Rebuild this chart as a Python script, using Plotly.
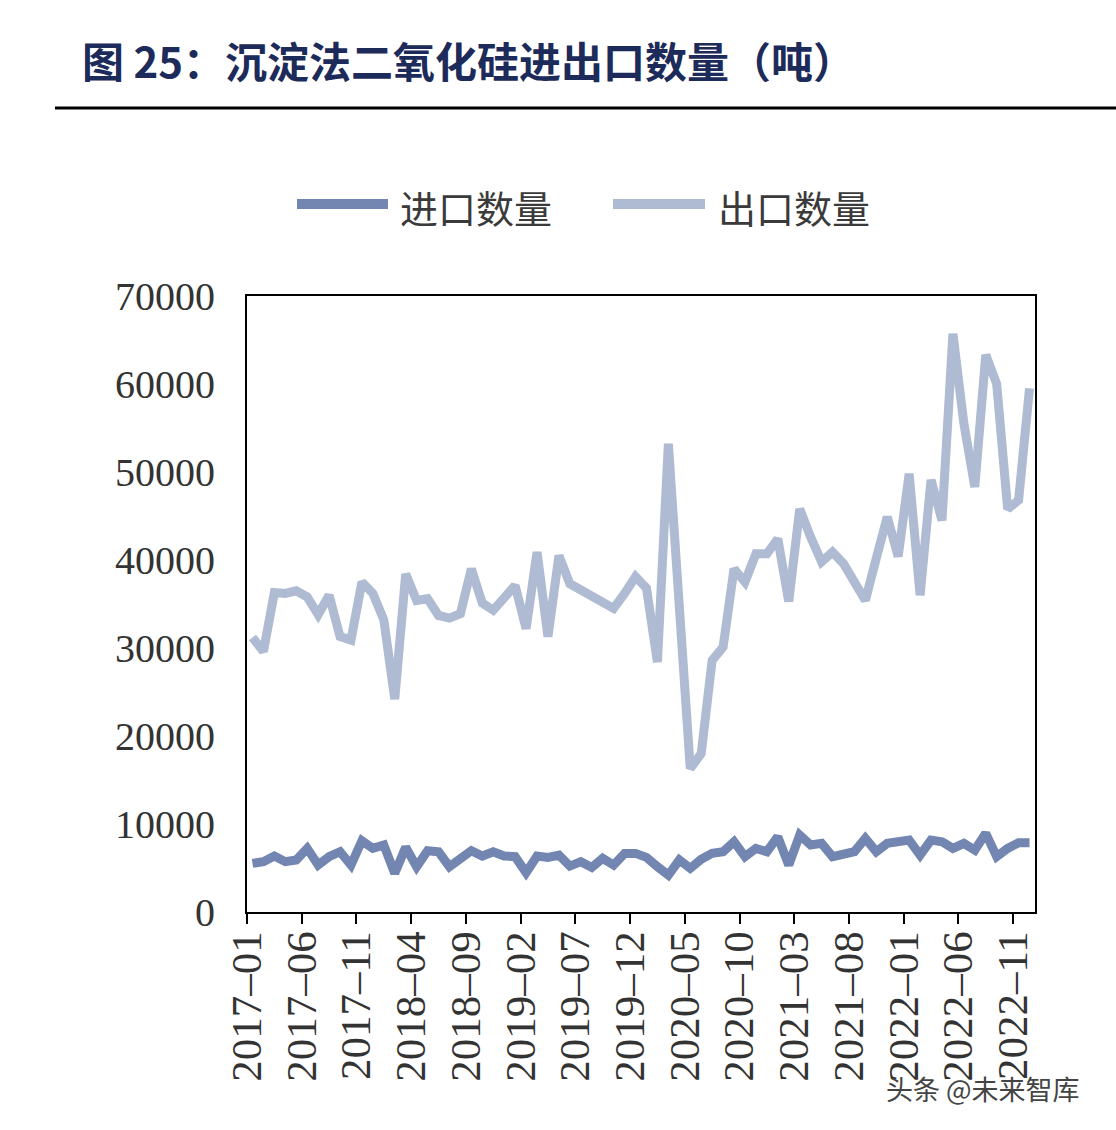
import plotly.graph_objects as go

# ---- data ----
months = [f"{y}-{m:02d}" for y in range(2017, 2023) for m in range(1, 13)]

imports = [5530, 5720, 6360, 5720, 5910, 7230, 5340, 6290, 6850, 5340,
           8100, 7230, 7610, 4390, 7350, 5150, 6970, 6850, 5150, 6100,
           6970, 6360, 6850, 6360, 6290, 4470, 6360, 6210, 6470, 5220,
           5720, 5070, 6100, 5340, 6660, 6660, 6210, 5150, 4200, 5910,
           4960, 5990, 6660, 6850, 7990, 6290, 7230, 6850, 8550, 5340,
           8750, 7610, 7800, 6290, 6470, 6850, 8370, 6850, 7800, 7990,
           8180, 6470, 8180, 7990, 7230, 7800, 7040, 8940, 6290, 7230,
           7870, 7870]

exports = [31200, 29600, 36300, 36200, 36500, 35800, 33800, 36000, 31300, 30900,
           37500, 36200, 33200, 24200, 38400, 35400, 35600, 33700, 33400, 33900,
           39000, 35100, 34300, 35600, 37100, 32200, 40900, 31300, 40500, 37300,
           36600, 36000, 35300, 34500, 36200, 38100, 36800, 28400, 53200, 34600,
           16300, 18000, 28600, 30100, 39000, 37500, 40700, 40700, 42400, 35300,
           45800, 42600, 39800, 40900, 39600, 37500, 35400, 40200, 44900, 40400,
           49800, 36000, 49100, 44500, 65700, 55500, 48300, 63300, 60000, 45800,
           46800, 59500]

series_names = ["进口数量", "出口数量"]
series_colors = ["#7286b1", "#aebbd3"]
tick_step = 5
y_ticks = [0, 10000, 20000, 30000, 40000, 50000, 60000, 70000]

title_text = "图 25：沉淀法二氧化硅进出口数量（吨）"
watermark = "头条 @未来智库"

# ---- figure ----
idx = list(range(len(months)))
fig = go.Figure()
for name, vals, col in zip(series_names, [imports, exports], series_colors):
    fig.add_trace(go.Scatter(x=idx, y=vals, mode="lines", name=name,
                             line=dict(color=col, width=9), showlegend=False))

tick_idx = list(range(0, len(months), tick_step))
fig.update_xaxes(
    range=[-0.5, len(months) - 0.5],
    tickmode="array",
    tickvals=[i - 0.5 for i in tick_idx],
    ticktext=[months[i].replace("-", "–") for i in tick_idx],
    tickangle=-90,
    ticks="outside", ticklen=10, tickwidth=2, tickcolor="black",
    showline=True, linecolor="black", linewidth=2, mirror=True,
    showgrid=False, zeroline=False,
    ticklabelstandoff=-10,
    tickfont=dict(family="Liberation Serif", size=43, color="#333333"),
)
fig.update_yaxes(
    range=[0, 70000],
    tickmode="array", tickvals=y_ticks, ticktext=[str(v) for v in y_ticks],
    ticks="", showline=True, linecolor="black", linewidth=2, mirror=True,
    showgrid=False, zeroline=False,
    ticklabelstandoff=22,
    tickfont=dict(family="Liberation Serif", size=40, color="#333333"),
)

W, H = 1116, 1130
L, R, T, B = 247, 81, 296, 218
pw, ph = W - L - R, H - T - B

def px(x):
    return (x - L) / pw

def py(y):
    return (H - B - y) / ph

shapes = [
    dict(type="line", xref="paper", yref="paper", x0=px(55), x1=px(1116),
         y0=py(108), y1=py(108), line=dict(color="black", width=3)),
    dict(type="line", xref="paper", yref="paper", x0=px(297), x1=px(388),
         y0=py(204), y1=py(204), line=dict(color=series_colors[0], width=10)),
    dict(type="line", xref="paper", yref="paper", x0=px(613), x1=px(705),
         y0=py(204), y1=py(204), line=dict(color=series_colors[1], width=10)),
]
annotations = [
    dict(text=f"<b>{title_text}</b>", xref="paper", yref="paper", x=px(80), y=py(60),
         xanchor="left", yanchor="middle", showarrow=False,
         font=dict(family="Noto Sans CJK SC", size=42, color="#1c2b5a")),
    dict(text=series_names[0], xref="paper", yref="paper", x=px(398), y=py(206),
         xanchor="left", yanchor="middle", showarrow=False,
         font=dict(family="Noto Sans CJK SC", size=38, color="#3a3a3a")),
    dict(text=series_names[1], xref="paper", yref="paper", x=px(716), y=py(206),
         xanchor="left", yanchor="middle", showarrow=False,
         font=dict(family="Noto Sans CJK SC", size=38, color="#3a3a3a")),
    dict(text=watermark, xref="paper", yref="paper", x=px(884), y=py(1088),
         xanchor="left", yanchor="middle", showarrow=False,
         font=dict(family="Noto Sans CJK SC", size=27, color="#444444")),
]

fig.update_layout(
    width=W, height=H,
    margin=dict(l=L, r=R, t=T, b=B),
    paper_bgcolor="white", plot_bgcolor="white",
    shapes=shapes, annotations=annotations,
    showlegend=False,
)

fig.write_html("out.html")
